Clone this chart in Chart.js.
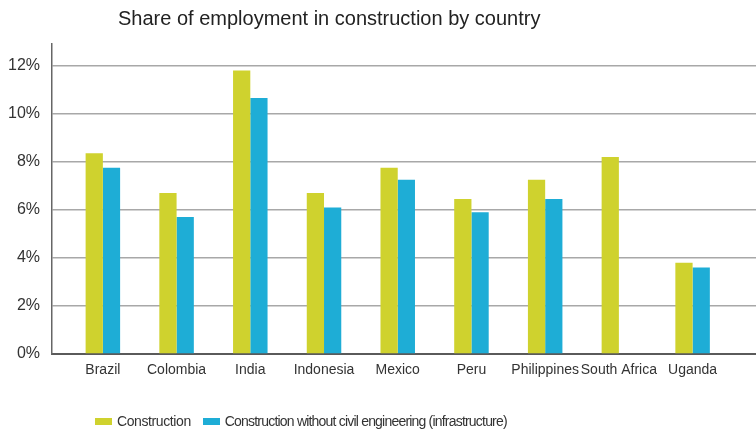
<!DOCTYPE html>
<html>
<head>
<meta charset="utf-8">
<script src="https://cdn.jsdelivr.net/npm/chart.js@4.4.0/dist/chart.umd.min.js"></script>
<style>
  body { margin: 0; background: #fff; }
  #wrap { position: relative; width: 756px; height: 430px; font-family: "Liberation Sans", Arial, sans-serif; color: #222; }
  #title { position: absolute; left: 118px; top: 7px; font-size: 20px; white-space: nowrap; }
  #legend { position: absolute; left: 95px; top: 413px; display: flex; font-size: 14px; line-height: 16px; color: #333; white-space: nowrap; letter-spacing: -0.4px; }
  .item { display: flex; align-items: center; margin-right: 12px; }
  .item.long { letter-spacing: -0.8px; }
  .box { width: 17px; height: 7px; margin-right: 5px; }
</style>
</head>
<body>
<div id="wrap">
  <canvas id="chart" width="756" height="430"></canvas>
  <div id="title">Share of employment in construction by country</div>
  <div id="legend"></div>
</div>
<script>
// values (percent of employment)
const countries = ['Brazil', 'Colombia', 'India', 'Indonesia', 'Mexico', 'Peru', 'Philippines', 'South Africa', 'Uganda'];
const construction = [8.35, 6.7, 11.8, 6.7, 7.75, 6.45, 7.25, 8.2, 3.8];
const withoutCivil = [7.75, 5.7, 10.65, 6.1, 7.25, 5.9, 6.45, null, 3.6];
const yTicks = [0, 2, 4, 6, 8, 10, 12];

const seriesNames = ['Construction', 'Construction without civil engineering (infrastructure)'];
const seriesColors = ['#cfd22e', '#1eadd6'];

function toPoints(values) {
    return values.map((v, i) => ({ x: i, y: v }));
}

/**
 * Simple HTML legend under the plot
 */
function buildLegend() {
    const el = document.getElementById('legend');
    seriesNames.forEach((name, i) => {
        const item = document.createElement('div');
        item.className = i === 1 ? 'item long' : 'item';
        const box = document.createElement('span');
        box.className = 'box';
        box.style.background = seriesColors[i];
        const txt = document.createElement('span');
        txt.textContent = name;
        item.appendChild(box);
        item.appendChild(txt);
        el.appendChild(item);
    });
}

buildLegend();

const ctx = document.getElementById('chart');
new Chart(ctx, {
    type: 'bar',
    data: {
        datasets: [
            {
                label: seriesNames[0],
                data: toPoints(construction),
                backgroundColor: seriesColors[0],
                categoryPercentage: 0.468,
                barPercentage: 1.0
            },
            {
                label: seriesNames[1],
                data: toPoints(withoutCivil),
                backgroundColor: seriesColors[1],
                categoryPercentage: 0.468,
                barPercentage: 1.0
            }
        ]
    },
    options: {
        responsive: false,
        animation: false,
        layout: {
            padding: { top: 44, right: 0, left: 0, bottom: 0 }
        },
        plugins: {
            legend: { display: false },
            title: { display: false },
            tooltip: { enabled: false }
        },
        scales: {
            x: {
                type: 'linear',
                offset: false,
                min: -0.69,
                max: 8.86,
                afterBuildTicks: (scale) => {
                    scale.ticks = countries.map((c, i) => ({ value: i }));
                },
                afterFit: (scale) => {
                    scale.height = 76;
                },
                grid: { display: false, drawTicks: false, offset: false },
                border: { color: '#5a5a5a', width: 2 },
                ticks: {
                    autoSkip: false,
                    maxRotation: 0,
                    padding: 8,
                    color: '#333',
                    font: { family: 'Liberation Sans', size: 14 },
                    callback: (v) => countries[v]
                }
            },
            y: {
                min: 0,
                max: 12.9,
                afterBuildTicks: (scale) => {
                    scale.ticks = yTicks.map(v => ({ value: v }));
                },
                afterFit: (scale) => {
                    scale.width = 52;
                },
                grid: { color: '#a8a8a8', lineWidth: 1.5, drawTicks: false },
                border: { color: '#666', width: 1.5 },
                ticks: {
                    padding: 12,
                    color: '#333',
                    font: { family: 'Liberation Sans', size: 16 },
                    callback: (v) => v + '%'
                }
            }
        }
    }
});
</script>
</body>
</html>
